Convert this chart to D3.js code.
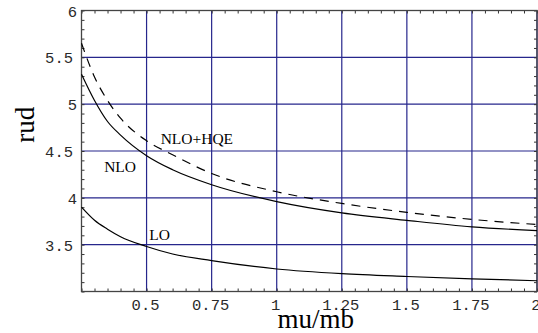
<!DOCTYPE html>
<html>
<head>
<meta charset="utf-8">
<script src="https://cdn.jsdelivr.net/npm/d3@7"></script>
<style>
  body { margin: 0; background: #fff; }
  svg { display: block; }
  .tick text { font-family: "Liberation Mono", "DejaVu Sans Mono", monospace; font-size: 15.5px; fill: #2a2a2a; }
  .title { font-family: "Liberation Serif", "DejaVu Serif", serif; font-size: 27px; fill: #000; }
  .clabel { font-family: "Liberation Serif", "DejaVu Serif", serif; font-size: 15.5px; fill: #000; }
</style>
</head>
<body>
<script>
// data
const xTicks = [0.5, 0.75, 1, 1.25, 1.5, 1.75, 2];
const yTicks = [3.5, 4, 4.5, 5, 5.5, 6];
const muVals = [0.25, 0.3, 0.35, 0.4, 0.5, 0.6, 0.75, 1, 1.25, 1.5, 1.75, 2];
const loVals = [3.90, 3.76, 3.665, 3.585, 3.48, 3.40, 3.33, 3.24, 3.19, 3.16, 3.135, 3.115];
const nloVals = [5.32, 5.04, 4.815, 4.67, 4.45, 4.30, 4.14, 3.96, 3.84, 3.76, 3.69, 3.65];
const hqeVals = [5.65, 5.29, 5.04, 4.85, 4.61, 4.46, 4.26, 4.065, 3.94, 3.845, 3.77, 3.715];

// set the dimensions and margins of the graph
const W = 538, H = 333;
const margin = { top: 10.5, right: 1, bottom: 41.5, left: 81.5 },
    width = W - margin.left - margin.right,
    height = H - margin.top - margin.bottom;

const svg = d3.select("body")
    .append("svg")
    .attr("width", W)
    .attr("height", H)
    .append("g")
    .attr("transform", `translate(${margin.left},${margin.top})`);

const x = d3.scaleLinear().domain([0.25, 2]).range([0, width]);
const y = d3.scaleLinear().domain([3, 6]).range([height, 0]);

// grid
svg.append("g")
    .selectAll("line")
    .data(xTicks)
    .join("line")
    .attr("x1", d => x(d)).attr("x2", d => x(d))
    .attr("y1", 0).attr("y2", height)
    .attr("stroke", "#26268c").attr("stroke-width", 1.2);
svg.append("g")
    .selectAll("line")
    .data(yTicks)
    .join("line")
    .attr("x1", 0).attr("x2", width)
    .attr("y1", d => y(d)).attr("y2", d => y(d))
    .attr("stroke", "#26268c").attr("stroke-width", 1.2);

// minor ticks, pointing inward on all four sides
const xMinor = d3.range(0.25, 2.0001, 0.05);
const yMinor = d3.range(3, 6.0001, 0.1);
svg.append("g").attr("transform", `translate(0,${height})`)
    .call(d3.axisBottom(x).tickValues(xMinor).tickSize(-3).tickFormat(""));
svg.append("g")
    .call(d3.axisTop(x).tickValues(xMinor).tickSize(-3).tickFormat(""));
svg.append("g")
    .call(d3.axisLeft(y).tickValues(yMinor).tickSize(-3).tickFormat(""));
svg.append("g").attr("transform", `translate(${width},0)`)
    .call(d3.axisRight(y).tickValues(yMinor).tickSize(-3).tickFormat(""));
svg.selectAll(".domain").remove();
svg.selectAll(".tick line").attr("stroke", "#333").attr("stroke-width", 1);

// frame
svg.append("rect")
    .attr("width", width).attr("height", height)
    .attr("fill", "none").attr("stroke", "#444").attr("stroke-width", 1.3);

// tick labels
const xAx = svg.append("g").attr("transform", `translate(0,${height})`)
    .call(d3.axisBottom(x).tickValues(xTicks).tickSize(0).tickPadding(0)
        .tickFormat(d => String(d)));
xAx.select(".domain").remove();
xAx.selectAll("text").attr("dy", null).attr("y", 18).attr("dx", -1.5);

const yAx = svg.append("g")
    .call(d3.axisLeft(y).tickValues(yTicks).tickSize(0).tickPadding(0)
        .tickFormat(d => String(d)));
yAx.select(".domain").remove();
yAx.selectAll("text")
    .attr("dy", null).attr("y", 5.5)
    .attr("x", d => Number.isInteger(d) ? -4.5 : -8.5);

// axis titles
svg.append("text").attr("class", "title")
    .attr("text-anchor", "middle")
    .attr("x", x(1.15)).attr("y", height + 36.5)
    .text("mu/mb");
svg.append("text").attr("class", "title")
    .attr("text-anchor", "middle")
    .attr("transform", `translate(${34 - margin.left},${y(4.78)}) rotate(-90)`)
    .text("rud");

// curves
const line = vals => d3.line()
    .curve(d3.curveMonotoneX)
    .x((d, i) => x(muVals[i]))
    .y(d => y(d))(vals);

svg.append("path").attr("d", line(loVals))
    .attr("fill", "none").attr("stroke", "#000").attr("stroke-width", 1.2);
svg.append("path").attr("d", line(nloVals))
    .attr("fill", "none").attr("stroke", "#000").attr("stroke-width", 1.2);
svg.append("path").attr("d", line(hqeVals))
    .attr("fill", "none").attr("stroke", "#000").attr("stroke-width", 1.2)
    .attr("stroke-dasharray", "9,7");

// curve labels
const labels = [
    { t: "NLO+HQE", mu: 0.554, v: 4.577 },
    { t: "NLO", mu: 0.337, v: 4.28 },
    { t: "LO", mu: 0.51, v: 3.55 }
];
svg.selectAll("text.clabel")
    .data(labels)
    .join("text")
    .attr("class", "clabel")
    .attr("x", d => x(d.mu))
    .attr("y", d => y(d.v))
    .text(d => d.t);
</script>
</body>
</html>
